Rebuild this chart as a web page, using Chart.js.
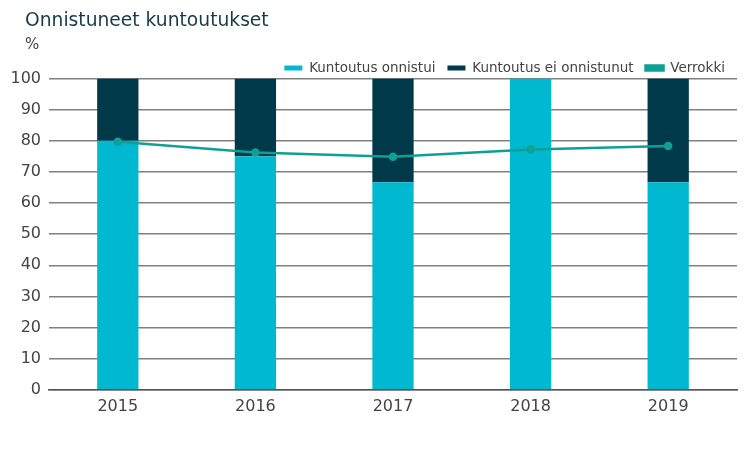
<!DOCTYPE html>
<html>
<head>
<meta charset="utf-8">
<script src="https://cdn.jsdelivr.net/npm/chart.js@4/dist/chart.umd.min.js"></script>
<style>
  body { margin: 0; background: #fff; font-family: "DejaVu Sans", sans-serif; }
  #wrap { position: relative; width: 748px; height: 466px; }
  #title { position: absolute; left: 25px; top: 9px; font-size: 18.7px; color: #173b49; }
  #unit { position: absolute; left: 25px; top: 35px; font-size: 15px; color: #444; }
</style>
</head>
<body>
<div id="wrap">
  <canvas id="chart" width="748" height="466"></canvas>
  <div id="title">Onnistuneet kuntoutukset</div>
  <div id="unit">%</div>
</div>
<script>
const years = ["2015", "2016", "2017", "2018", "2019"];
const onnistui = [80, 75, 66.7, 100, 66.7];
const eiOnnistunut = [20, 25, 33.3, 0, 33.3];
const verrokki = [79.7, 76.2, 74.9, 77.2, 78.3];
const yTicks = [0, 10, 20, 30, 40, 50, 60, 70, 80, 90, 100];

const FONT = "'DejaVu Sans', sans-serif";
Chart.defaults.font.family = FONT;

// nudge the legend down closer to the plot, like the original
const legendShift = {
  id: "legendShift",
  afterLayout(chart) {
    const lg = chart.legend;
    const dy = 67 - (lg.top + lg.height / 2);
    lg.top += dy;
    lg.bottom += dy;
  },
};

function draw() {
  const ctx = document.getElementById("chart").getContext("2d");
  new Chart(ctx, {
    type: "bar",
    data: {
      labels: years,
      datasets: [
        {
          label: "Kuntoutus onnistui",
          data: onnistui,
          backgroundColor: "#00b9d1",
          stack: "a",
          order: 2,
          barPercentage: 0.3,
          categoryPercentage: 1,
        },
        {
          label: "Kuntoutus ei onnistunut",
          data: eiOnnistunut,
          backgroundColor: "#003a4a",
          stack: "a",
          order: 2,
          barPercentage: 0.3,
          categoryPercentage: 1,
        },
        {
          type: "line",
          label: "Verrokki",
          data: verrokki,
          borderColor: "#0fa095",
          backgroundColor: "#0fa095",
          borderWidth: 2.5,
          pointRadius: 3,
          pointBackgroundColor: "#0fa095",
          stack: "v",
          order: 1,
        },
      ],
    },
    options: {
      responsive: false,
      animation: false,
      layout: { padding: { top: 43, left: 0, right: 11, bottom: 43 } },
      plugins: {
        legend: {
          align: "end",
          labels: {
            boxWidth: 18,
            boxHeight: 5,
            color: "#444",
            font: { family: FONT, size: 13.5 },
            padding: 12,
            sort: (a, b) => a.datasetIndex - b.datasetIndex,
          },
        },
        tooltip: { enabled: false },
      },
      scales: {
        x: {
          stacked: true,
          grid: { display: false, drawTicks: false },
          border: { color: "#555", width: 1.5 },
          ticks: { color: "#444", font: { family: FONT, size: 16 }, padding: 7 },
        },
        y: {
          stacked: true,
          min: 0,
          max: 100,
          afterBuildTicks: (axis) => { axis.ticks = yTicks.map((v) => ({ value: v })); },
          afterFit: (axis) => { axis.width = 49; },
          grid: { color: "#808080", lineWidth: 1.5, drawTicks: false },
          border: { display: false },
          ticks: { color: "#444", font: { family: FONT, size: 16 }, padding: 8 },
        },
      },
    },
    plugins: [legendShift],
  });
}

document.fonts.load("15px 'DejaVu Sans'").then(draw, draw);
</script>
</body>
</html>
